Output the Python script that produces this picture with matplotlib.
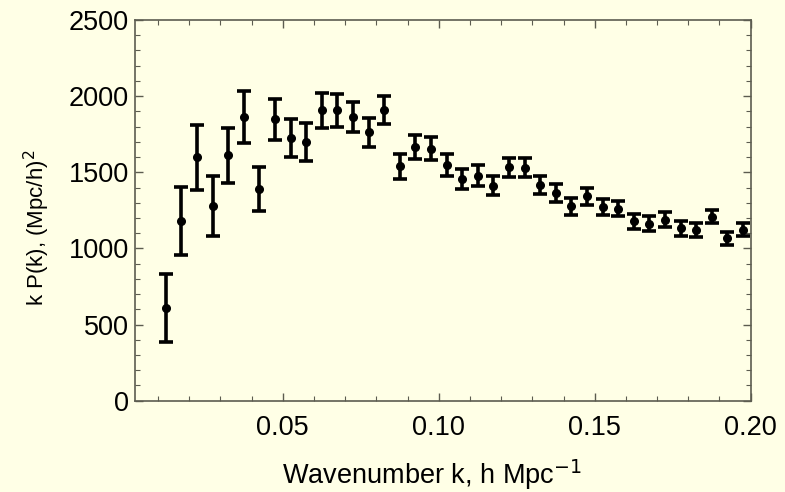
import matplotlib
matplotlib.use("Agg")
import matplotlib.pyplot as plt
import numpy as np
from matplotlib.ticker import MultipleLocator, FixedLocator

plt.rcParams['font.family'] = ['Liberation Sans', 'DejaVu Sans']

# binned power spectrum
k = [0.0125, 0.0175, 0.0225, 0.0275, 0.0325, 0.0375, 0.0425, 0.0475,
     0.0525, 0.0575, 0.0625, 0.0675, 0.0725, 0.0775, 0.0825, 0.0875,
     0.0925, 0.0975, 0.1025, 0.1075, 0.1125, 0.1175, 0.1225, 0.1275,
     0.1325, 0.1375, 0.1425, 0.1475, 0.1525, 0.1575, 0.1625, 0.1675,
     0.1725, 0.1775, 0.1825, 0.1875, 0.1925, 0.1975]
kpk = [606, 1180, 1598, 1277, 1611, 1862, 1388, 1847,
       1725, 1699, 1906, 1906, 1864, 1764, 1906, 1539,
       1668, 1655, 1546, 1456, 1478, 1413, 1533, 1529,
       1417, 1365, 1276, 1342, 1271, 1262, 1178, 1162,
       1188, 1131, 1123, 1208, 1066, 1124]
err = [223, 223, 214, 198, 183, 169, 145, 135,
       126, 125, 113, 110, 100, 95, 92, 82,
       80, 77, 72, 68, 67, 63, 63, 62,
       61, 59, 56, 55, 54, 52, 50, 49,
       48, 47, 47, 44, 43, 43]
xticks = [0.05, 0.10, 0.15, 0.20]
xticklabels = ['0.05', '0.10', '0.15', '0.20']

bg = '#ffffe6'
spine_col = '#5c5c50'

fig = plt.figure(figsize=(7.85, 4.92), dpi=100, facecolor=bg)
ax = fig.add_axes([0.1726, 0.1856, 0.7837, 0.7737], facecolor=bg)

ax.errorbar(k, kpk, yerr=err, fmt='o', color='black', ms=5.5,
            elinewidth=2.6, capsize=5, capthick=2.6)

ax.set_xlim(0.0028, 0.2)
ax.set_ylim(0, 2500)

ax.xaxis.set_major_locator(FixedLocator(xticks))
ax.xaxis.set_minor_locator(MultipleLocator(0.01))
ax.yaxis.set_major_locator(MultipleLocator(500))
ax.yaxis.set_minor_locator(MultipleLocator(100))
ax.set_xticklabels(xticklabels)

ax.tick_params(which='both', direction='in', top=True, right=True,
               color=spine_col, labelsize=19.5, pad=4.5)
ax.tick_params(axis='x', which='major', pad=10)
ax.tick_params(which='major', length=6, width=1)
ax.tick_params(which='minor', length=3.5, width=0.8)
for s in ax.spines.values():
    s.set_color(spine_col)
    s.set_linewidth(1.2)

ax.set_xlabel(r'Wavenumber k, h Mpc$^{-1}$', fontsize=19.5)
ax.xaxis.label.set_va('baseline')
ax.xaxis.set_label_coords(0.482, -0.218)
ax.set_ylabel(r'k P(k), (Mpc/h)$^{2}$', fontsize=16)
ax.yaxis.label.set_va('center')
ax.yaxis.set_label_coords(-0.16, 0.455)

fig.savefig('out.png', dpi=100, facecolor=bg)
